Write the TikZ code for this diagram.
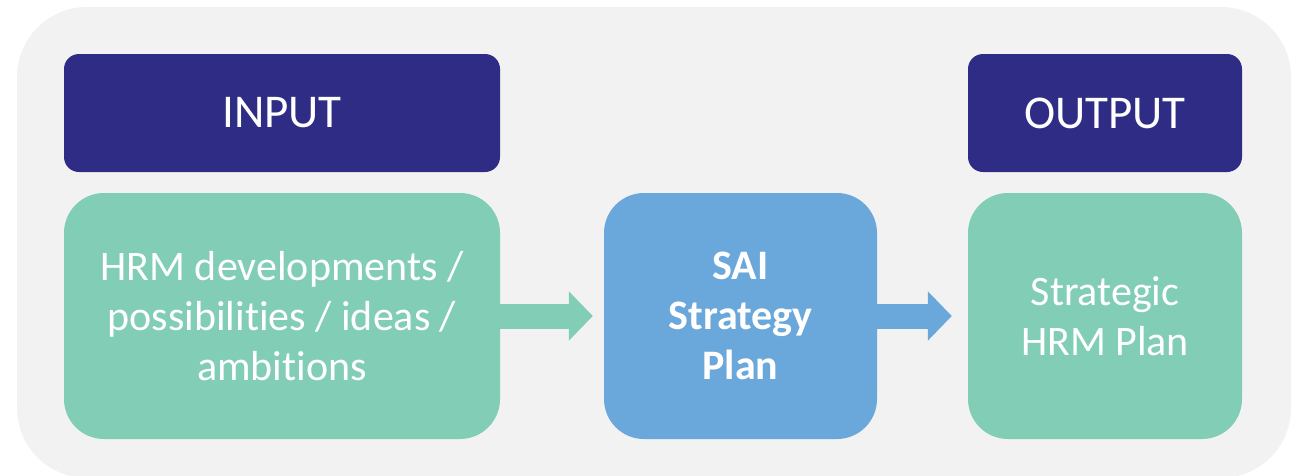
\documentclass[tikz,border=0pt]{standalone}
\usepackage{fontspec}
\setmainfont[Ligatures={NoCommon}]{Carlito}
\usetikzlibrary{arrows.meta}
\definecolor{panelgray}{HTML}{F2F2F2}
\definecolor{navy}{HTML}{2E2C84}
\definecolor{mint}{HTML}{82CDB6}
\definecolor{skyblue}{HTML}{6AA7DA}
\tikzset{
  header/.style={fill=navy, text=white, rounded corners=15pt, inner sep=0pt,
    minimum height=118pt, font=\fontsize{47}{56}\selectfont},
  block/.style={rounded corners=40pt, inner sep=0pt, text=white,
    minimum height=246pt, align=center, font=\fontsize{42}{50}\selectfont},
  flow/.style={line width=25pt, -{Triangle[length=24pt,width=48pt]}},
}
\begin{document}
\begin{tikzpicture}[x=1pt,y=-1pt]
  \useasboundingbox (0,0) rectangle (1304,475);
  % background panel
  \fill[panelgray, rounded corners=70pt] (17,7) rectangle (1291,478);
  % column headers
  \node[header, minimum width=436pt] (inhead) at (282,113) {INPUT};
  \node[header, minimum width=274pt] (outhead) at (1105,113) {OUTPUT};
  % content blocks
  \node[block, fill=mint, minimum width=436pt] (input) at (282,316)
    {HRM developments /\\possibilities / ideas /\\ambitions};
  \node[block, fill=skyblue, minimum width=273pt, font=\fontsize{42}{50}\selectfont\bfseries] (sai) at (740.5,316)
    {SAI\\Strategy\\Plan};
  \node[block, fill=mint, minimum width=274pt] (output) at (1105,316)
    {Strategic\\HRM Plan};
  % flow arrows
  \draw[flow, mint, shorten >=11pt] (input.east) -- (sai.west);
  \draw[flow, skyblue, shorten >=16pt] (sai.east) -- (output.west);
\end{tikzpicture}
\end{document}
